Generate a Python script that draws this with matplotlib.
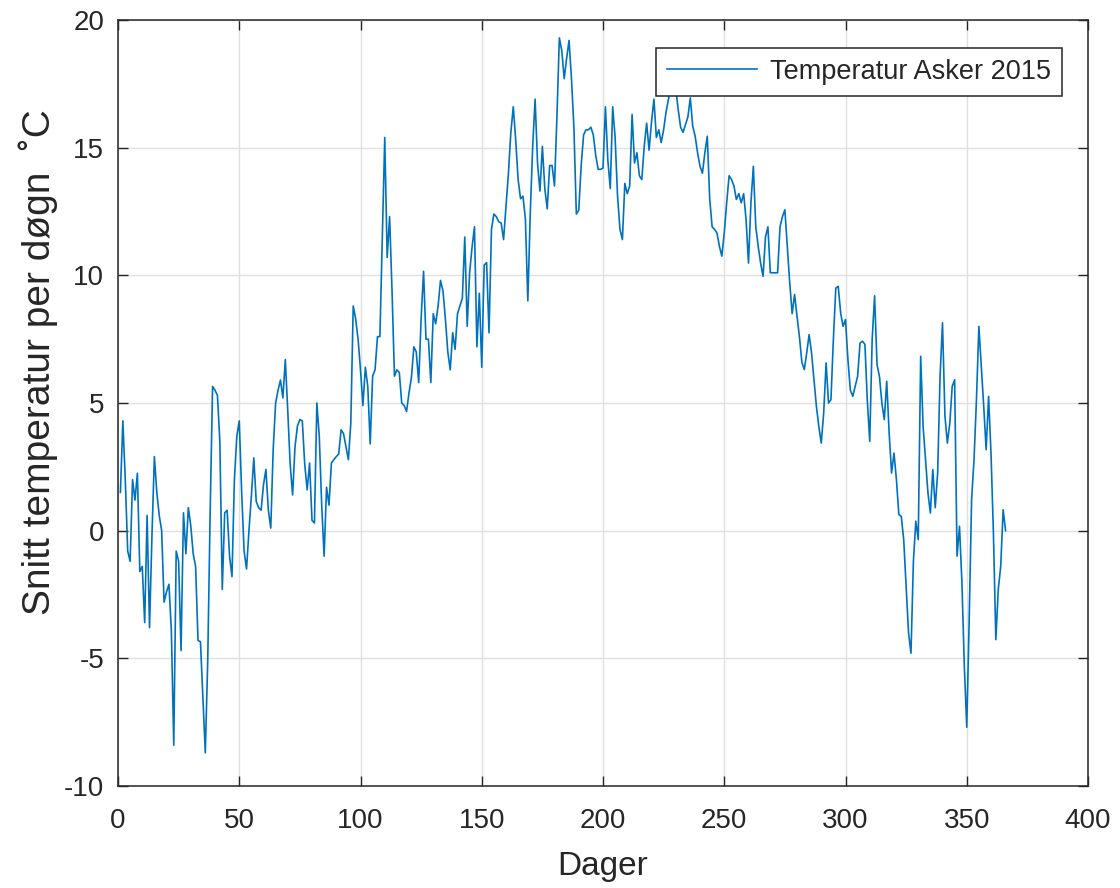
import matplotlib
matplotlib.use("Agg")
import matplotlib.pyplot as plt
import numpy as np

# ── Data: daily mean temperature, Asker 2015 ────────────────────────────────
temps = [
    1.5, 4.3, 2.0, -0.8, -1.2, 2.0, 1.2, 2.25, -1.6, -1.4,
    -3.6, 0.6, -3.8, -0.2, 2.9, 1.5, 0.6, 0.0, -2.8, -2.4,
    -2.1, -3.9, -8.4, -0.8, -1.2, -4.7, 0.7, -0.9, 0.9, 0.2,
    -0.9, -1.4, -4.3, -4.35, -6.5, -8.7, -5.1, 0.7, 5.65, 5.5,
    5.3, 3.5, -2.3, 0.7, 0.8, -1.0, -1.8, 2.0, 3.7, 4.3,
    1.5, -0.8, -1.5, 0.0, 1.35, 2.85, 1.15, 0.9, 0.8, 1.8,
    2.4, 0.8, 0.1, 3.2, 5.0, 5.5, 5.9, 5.2, 6.7, 4.7,
    2.6, 1.4, 3.3, 4.1, 4.35, 4.3, 2.6, 1.6, 2.65, 0.4,
    0.3, 5.0, 3.7, 1.0, -1.0, 1.7, 1.0, 2.65, 2.78, 2.9,
    3.0, 3.95, 3.8, 3.3, 2.78, 4.2, 8.8, 8.3, 7.5, 6.3,
    4.9, 6.4, 5.65, 3.4, 6.05, 6.3, 7.6, 7.6, 11.5, 15.4,
    10.7, 12.3, 9.4, 6.05, 6.3, 6.2, 5.0, 4.9, 4.67, 5.4,
    6.0, 7.2, 7.0, 5.8, 8.3, 10.16, 7.5, 7.5, 5.8, 8.5,
    8.1, 8.8, 9.8, 9.4, 8.3, 7.0, 6.3, 7.75, 7.1, 8.5,
    8.8, 9.1, 11.5, 8.0, 10.1, 11.1, 11.9, 7.2, 9.3, 6.4,
    10.4, 10.5, 7.75, 11.8, 12.4, 12.3, 12.1, 12.05, 11.4, 12.7,
    14.0, 15.6, 16.6, 15.3, 13.75, 13.0, 13.1, 12.2, 9.0, 12.4,
    15.05, 16.9, 14.4, 13.3, 15.05, 13.4, 12.6, 14.3, 14.3, 13.5,
    16.2, 19.3, 18.8, 17.7, 18.5, 19.2, 17.7, 15.8, 12.4, 12.55,
    14.3, 15.5, 15.7, 15.7, 15.8, 15.5, 14.7, 14.15, 14.15, 14.2,
    16.6, 14.5, 13.4, 16.6, 15.4, 13.1, 11.8, 11.4, 13.6, 13.2,
    13.5, 16.3, 14.4, 14.8, 13.9, 13.75, 15.05, 15.96, 14.9, 16.0,
    16.9, 15.4, 15.7, 15.2, 15.7, 16.4, 16.9, 17.4, 17.8, 17.3,
    16.5, 15.8, 15.6, 15.9, 16.2, 16.95, 15.84, 15.45, 14.8, 14.27,
    14.0, 14.8, 15.45, 13.0, 11.9, 11.8, 11.66, 11.14, 10.75, 11.66,
    12.84, 13.9, 13.75, 13.5, 12.97, 13.2, 12.84, 13.2, 12.18, 10.48,
    12.84, 14.27, 11.9, 11.14, 10.48, 9.96, 11.5, 11.9, 10.1, 10.1,
    10.1, 10.1, 11.9, 12.3, 12.57, 11.14, 9.7, 8.5, 9.25, 8.4,
    7.6, 6.6, 6.31, 6.96, 7.68, 6.96, 5.91, 4.87, 4.08, 3.43,
    4.6, 6.57, 5.0, 5.13, 7.5, 9.5, 9.57, 8.53, 8.0, 8.27,
    6.7, 5.5, 5.26, 5.65, 6.05, 7.35, 7.42, 7.3, 5.1, 3.5,
    7.5, 9.2, 6.5, 6.04, 5.0, 4.35, 5.85, 3.82, 2.26, 3.04,
    2.0, 0.63, 0.56, -0.35, -2.18, -4.0, -4.8, -1.2, 0.37, -0.35,
    6.83, 4.09, 2.78, 1.48, 0.69, 2.39, 0.9, 2.26, 6.05, 8.14,
    4.5, 3.43, 4.2, 5.65, 5.91, -1.0, 0.17, -2.0, -5.3, -7.7,
    -3.5, 1.22, 2.78, 5.13, 8.0, 6.44, 4.87, 3.17, 5.26, 3.04,
    -0.1, -4.27, -2.3, -1.4, 0.82, 0.0,
]
days = np.arange(1, len(temps) + 1)

xticks = [0, 50, 100, 150, 200, 250, 300, 350, 400]
yticks = [-10, -5, 0, 5, 10, 15, 20]

series_label = "Temperatur Asker 2015"
xlabel = "Dager"
ylabel = "Snitt temperatur per døgn  \u02daC"
# ─────────────────────────────────────────────────────────────────────────────

plt.rcParams["font.family"] = ["Liberation Sans", "DejaVu Sans"]
plt.rcParams["axes.unicode_minus"] = False

dark = "#262626"

fig = plt.figure(figsize=(11.2, 8.88), dpi=100)
ax = fig.add_axes([118 / 1120, 1 - 786 / 888, 970 / 1120, 766 / 888])

ax.plot(days, temps, color="#0072BD", linewidth=1.2, label=series_label)

ax.set_xlim(0, 400)
ax.set_ylim(-10, 20)
ax.set_xticks(xticks)
ax.set_yticks(yticks)

ax.tick_params(direction="in", length=7, width=1.0, colors=dark,
               labelsize=20, top=True, right=True)
ax.tick_params(axis="x", pad=16)
ax.tick_params(axis="y", pad=10)

for sp in ax.spines.values():
    sp.set_color(dark)
    sp.set_linewidth(1.1)

ax.grid(True, color="#e0e0e0", linewidth=1.0)
ax.set_axisbelow(True)

ax.set_xlabel(xlabel, fontsize=24, color=dark, labelpad=12)
ax.set_ylabel(ylabel, fontsize=28, color=dark)
ax.yaxis.set_label_coords(-0.062, 0.554)

leg = ax.legend(loc="upper right", bbox_to_anchor=((1062 - 118) / 970, (786 - 48) / 766),
                borderaxespad=0, fontsize=19.5, fancybox=False, framealpha=1,
                edgecolor=dark, handlelength=3.3, handletextpad=0.5,
                borderpad=0.4)
leg.get_frame().set_linewidth(1.1)
for t in leg.get_texts():
    t.set_color(dark)

fig.savefig("out.png", dpi=100)
